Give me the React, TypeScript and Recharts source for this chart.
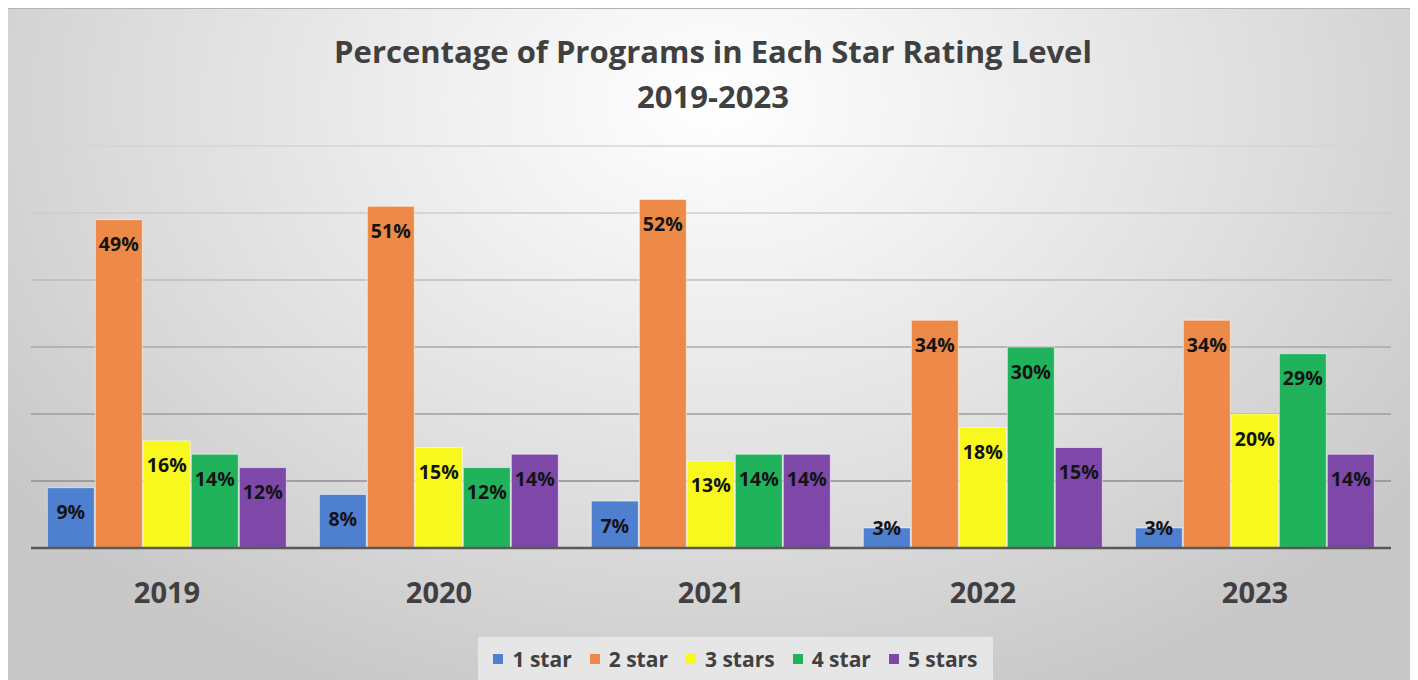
import React from 'react';
import { BarChart, Bar, XAxis, YAxis, Legend, LabelList, CartesianGrid } from 'recharts';

const years = ['2019', '2020', '2021', '2022', '2023'];
const oneStar = [9, 8, 7, 3, 3];
const twoStar = [49, 51, 52, 34, 34];
const threeStars = [16, 15, 13, 18, 20];
const fourStar = [14, 12, 14, 30, 29];
const fiveStars = [12, 14, 14, 15, 14];
const seriesNames = ['1 star', '2 star', '3 stars', '4 star', '5 stars'];
const yTicks = [0, 10, 20, 30, 40, 50, 60];

const seriesKeys = ['s1', 's2', 's3', 's4', 's5'];
const seriesColors = ['#4f7fcf', '#ee8a48', '#f8f81e', '#20b35c', '#7e48a8'];
const gridColors = ['none', '#8e8e8e', '#9c9c9c', '#a8a8a8', '#bcbcbc', '#cdcdcd', '#d4d4d4'];

const data = years.map((y, i) => ({
  year: y,
  s1: oneStar[i],
  s2: twoStar[i],
  s3: threeStars[i],
  s4: fourStar[i],
  s5: fiveStars[i],
}));

const FONT = '"Open Sans", "Noto Sans", sans-serif';
const PLOT_TOP = 137;
const PLOT_BOTTOM = 540;

const renderLabel = (props: any) => {
  const { x, y, width, height, value } = props;
  const cy = height >= 30 ? y + 24 : y;
  return (
    <text
      x={x + width / 2}
      y={cy}
      textAnchor="middle"
      dominantBaseline="central"
      fontFamily={FONT}
      fontWeight={700}
      fontSize={19.5}
      fill="#141414"
    >
      {value}%
    </text>
  );
};

const XTick = (props: any) => {
  const { x, y, payload } = props;
  return (
    <text
      x={x}
      y={y + 43}
      textAnchor="middle"
      dominantBaseline="central"
      fontFamily={FONT}
      fontWeight={700}
      fontSize={29}
      fill="#404040"
    >
      {payload.value}
    </text>
  );
};

const GridLine = (props: any) => {
  const { x1, x2, y1, y2 } = props;
  if (y1 === undefined) return null;
  const idx = Math.round(((PLOT_BOTTOM - y1) / (PLOT_BOTTOM - PLOT_TOP)) * (yTicks.length - 1));
  const color = gridColors[idx] || 'none';
  return <line x1={x1} x2={x2} y1={y1} y2={y2} stroke={color} strokeWidth={1.5} />;
};

const LegendContent = () => (
  <div
    style={{
      display: 'flex',
      alignItems: 'center',
      justifyContent: 'center',
      height: 43,
      background: '#e6e6e6',
      fontFamily: FONT,
      fontWeight: 700,
      fontSize: 21,
      color: '#404040',
    }}
  >
    {seriesNames.map((n, i) => (
      <div key={n} style={{ display: 'flex', alignItems: 'center', marginRight: i < 4 ? 18 : 0 }}>
        <div style={{ width: 10, height: 10, background: seriesColors[i], marginRight: 9 }} />
        <span>{n}</span>
      </div>
    ))}
  </div>
);

export default function App() {
  return (
    <div
      style={{
        position: 'relative',
        width: 1410,
        height: 672,
        borderTop: '1px solid #b4b4b4',
        boxSizing: 'border-box',
        background:
          'radial-gradient(ellipse 62% 95% at 50% 14%, #ffffff 0%, #f0f0f0 30%, #dddddd 65%, #c8c8c8 100%)',
      }}
    >
      <div
        style={{
          position: 'absolute',
          left: 0,
          width: 1410,
          top: 20,
          textAlign: 'center',
          fontFamily: FONT,
          fontWeight: 700,
          fontSize: 31,
          lineHeight: '45px',
          color: '#404040',
        }}
      >
        <div>Percentage of Programs in Each Star Rating Level</div>
        <div>2019-2023</div>
      </div>
      <BarChart
        width={1410}
        height={671}
        data={data}
        margin={{ top: PLOT_TOP, right: 27, left: 23, bottom: 29 }}
        barCategoryGap="6%"
        barGap={1}
        style={{ position: 'absolute', top: 0, left: 0 }}
      >
        <CartesianGrid vertical={false} horizontal={GridLine as any} />
        <XAxis
          dataKey="year"
          axisLine={{ stroke: '#595959', strokeWidth: 2.5 }}
          tickLine={false}
          tickSize={0}
          tickMargin={0}
          height={60}
          tick={XTick}
          interval={0}
        />
        <YAxis hide domain={[0, 60]} ticks={yTicks} />
        <Legend
          verticalAlign="bottom"
          height={43}
          wrapperStyle={{ top: 628, left: 470, width: 515, height: 43, bottom: 'auto' }}
          content={LegendContent}
        />
        {seriesKeys.map((k, i) => (
          <Bar
            key={k}
            dataKey={k}
            name={seriesNames[i]}
            fill={seriesColors[i]}
            stroke="rgba(255,255,255,0.55)"
            strokeWidth={1}
            isAnimationActive={false}
          >
            <LabelList dataKey={k} content={renderLabel} />
          </Bar>
        ))}
      </BarChart>
    </div>
  );
}
